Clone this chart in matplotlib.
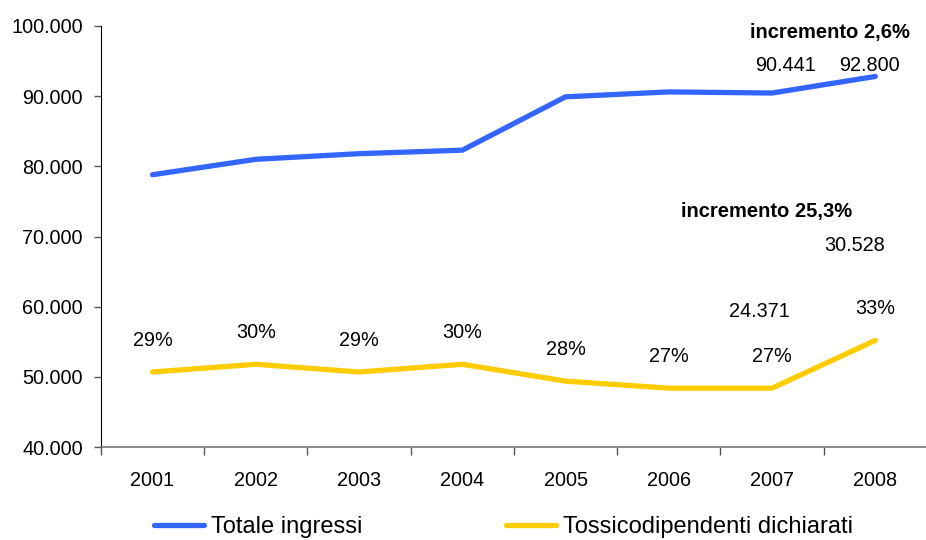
import matplotlib
matplotlib.use("Agg")
import matplotlib.pyplot as plt

plt.rcParams['font.family'] = ['Liberation Sans', 'DejaVu Sans']

# data
anni = ['2001', '2002', '2003', '2004', '2005', '2006', '2007', '2008']
totale_ingressi = [78800, 81000, 81800, 82300, 89900, 90600, 90441, 92800]
# yellow line as drawn against the left axis
tossicodipendenti = [50700, 51800, 50700, 51800, 49400, 48400, 48400, 55200]
percentuali = ['29%', '30%', '29%', '30%', '28%', '27%', '27%', '33%']
y_ticks = [40000, 50000, 60000, 70000, 80000, 90000, 100000]
y_labels = ['40.000', '50.000', '60.000', '70.000', '80.000', '90.000', '100.000']

fig = plt.figure(figsize=(9.26, 5.4), dpi=100)
ax = fig.add_axes([0.109, 0.172, 0.892, 0.780])

x = list(range(len(anni)))
ax.plot(x, totale_ingressi, color='#3366FF', lw=3.8, solid_capstyle='round', label='Totale ingressi')
ax.plot(x, tossicodipendenti, color='#FFCC00', lw=3.8, solid_capstyle='round', label='Tossicodipendenti dichiarati')

ax.set_xlim(-0.5, 7.5)
ax.set_ylim(40000, 100000)
ax.set_yticks(y_ticks)
ax.set_yticklabels(y_labels, fontsize=14.3)
ax.tick_params(axis='y', length=5, width=1, color='#555555', pad=8)

# category ticks between years, labels in the middle
ax.set_xticks([i - 0.5 for i in range(len(anni) + 1)])
ax.set_xticklabels([])
ax.set_xticks(x, minor=True)
ax.set_xticklabels(anni, minor=True, fontsize=14.3)
ax.tick_params(axis='x', which='major', length=6, width=1, color='#555555', direction='out')
ax.tick_params(axis='x', which='minor', length=0, pad=17)

for s in ['top', 'right']:
    ax.spines[s].set_visible(False)
ax.spines['left'].set_color('black')
ax.spines['bottom'].set_color('#777777')
ax.spines['bottom'].set_linewidth(1.2)

# percentage labels above the yellow line
for xi, yi, p in zip(x, tossicodipendenti, percentuali):
    ax.annotate(p, (xi, yi), xytext=(0, 23), textcoords='offset points',
                ha='center', va='center', fontsize=14.3)

# value labels
ax.annotate('90.441', (6, totale_ingressi[6]), xytext=(10, 20), textcoords='offset points',
            ha='center', va='center', fontsize=14.3)
ax.annotate('92.800', (7, totale_ingressi[7]), xytext=(-4, 8), textcoords='offset points',
            ha='center', va='center', fontsize=14.3)
ax.annotate('incremento 2,6%', (7, totale_ingressi[7]), xytext=(-33, 32), textcoords='offset points',
            ha='center', va='center', fontsize=14.5, fontweight='bold')

ax.annotate('24.371', (6, tossicodipendenti[6]), xytext=(-9, 55), textcoords='offset points',
            ha='center', va='center', fontsize=14.3)
ax.annotate('30.528', (7, tossicodipendenti[7]), xytext=(-15, 68), textcoords='offset points',
            ha='center', va='center', fontsize=14.3)
ax.annotate('incremento 25,3%', (7, tossicodipendenti[7]), xytext=(-78, 93), textcoords='offset points',
            ha='center', va='center', fontsize=14.5, fontweight='bold')

# legend sits low, as in the reference, but kept fully inside the picture
fig.legend(loc='center', bbox_to_anchor=(0.544, 0.024), ncol=2, frameon=False,
           fontsize=17, handlelength=2.1, handletextpad=0.3, columnspacing=6.1,
           borderpad=0, borderaxespad=0)

fig.savefig('out.png', dpi=100)
